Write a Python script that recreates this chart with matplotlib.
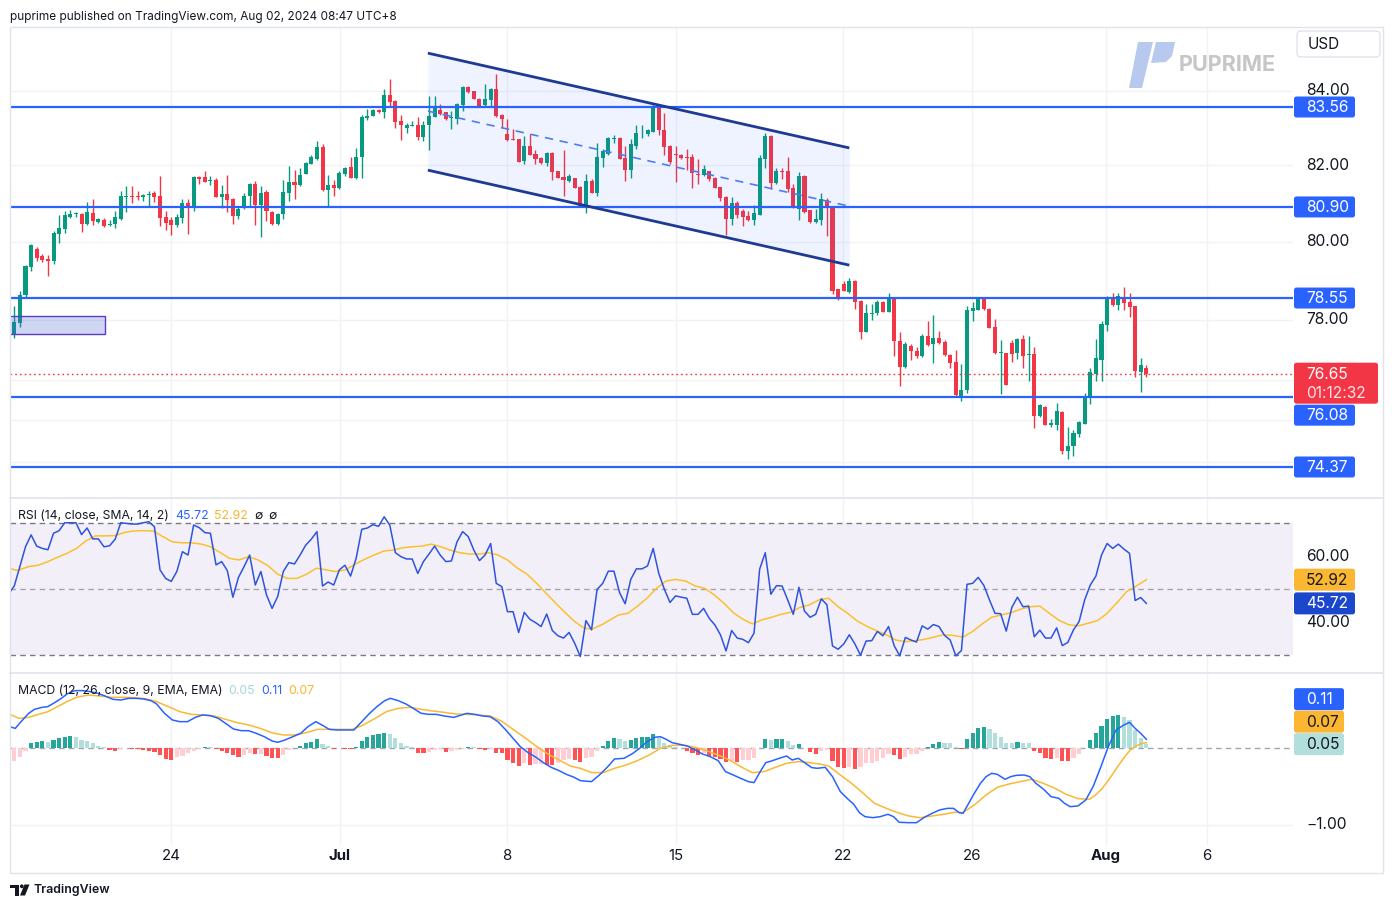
import numpy as np
import matplotlib
matplotlib.use("Agg")
import matplotlib.pyplot as plt
from matplotlib.patches import Rectangle, FancyBboxPatch, Polygon, Circle
from matplotlib.ticker import NullLocator, NullFormatter

plt.rcParams['font.family'] = ['Inter', 'DejaVu Sans']

# ---------------- data (4h candles, index 0 = first visible bar) ----------------
opens = [77.87,77.64,77.92,78.63,79.34,79.81,79.63,79.55,79.50,80.20,
 80.33,80.64,80.72,80.72,80.46,80.74,80.51,80.56,80.43,80.46,
 80.59,81.16,81.19,81.19,81.16,81.21,81.27,81.19,80.64,80.56,
 80.43,80.61,81.00,80.92,81.69,81.69,81.58,81.61,81.16,81.24,
 81.11,80.66,80.87,81.19,81.50,80.95,81.29,80.77,80.46,80.72,
 81.27,81.56,81.48,81.77,82.03,82.17,82.49,81.35,81.48,81.40,
 81.77,81.95,81.66,82.22,83.26,83.32,83.48,83.42,83.88,83.72,
 83.18,83.00,83.05,83.08,82.75,83.08,83.29,83.48,83.42,83.26,
 83.24,83.61,84.10,83.99,83.78,83.61,83.75,84.05,83.34,82.83,
 82.70,82.70,82.11,82.51,82.30,82.19,82.06,82.33,81.85,81.69,
 81.58,81.66,81.42,80.92,81.58,81.27,82.19,82.30,82.70,82.73,
 82.19,81.87,82.51,82.85,82.83,82.89,83.53,82.94,82.51,82.30,
 82.27,82.22,82.22,81.77,81.74,81.85,81.66,81.42,81.16,80.59,
 81.00,80.79,80.66,80.56,80.69,82.17,82.78,81.53,81.85,81.85,
 81.40,80.85,81.71,80.82,80.51,80.56,81.08,80.92,78.78,78.91,
 78.70,78.98,78.47,77.69,78.15,78.17,78.45,78.20,78.53,77.46,
 76.81,77.34,77.21,77.09,77.59,77.39,77.54,77.44,77.11,76.94,
 76.07,76.25,78.22,78.25,78.53,78.27,77.82,77.16,77.16,77.41,
 77.16,77.51,77.11,77.14,75.61,75.83,75.39,75.39,75.70,74.75,
 74.87,75.17,75.41,76.05,76.64,76.99,77.87,78.53,78.37,78.58,
 78.45,78.35,76.69,76.79]
highs = [77.90,78.35,78.73,79.39,79.94,79.86,79.68,79.65,80.27,80.69,
 80.79,80.82,80.77,80.74,81.03,81.11,80.61,80.61,80.56,80.79,
 81.32,81.45,81.45,81.32,81.24,81.32,81.32,81.71,80.79,80.64,
 80.72,81.11,81.11,81.71,81.71,81.85,81.71,81.66,81.48,81.74,
 81.13,80.90,81.27,81.53,81.58,81.45,81.35,80.79,80.74,81.61,
 81.98,81.87,81.93,82.09,82.27,82.65,82.57,81.74,81.61,81.85,
 81.95,82.22,82.46,83.34,83.50,83.50,83.50,84.05,84.32,83.75,
 83.34,83.13,83.18,83.29,83.18,83.86,83.86,83.64,83.43,83.45,
 83.67,84.13,84.13,84.00,83.80,84.18,84.07,84.46,83.36,83.24,
 82.97,82.71,82.78,82.83,82.41,82.21,82.35,82.35,81.86,82.41,
 81.77,81.67,81.45,81.77,81.63,82.59,82.43,82.75,82.81,82.74,
 82.51,82.70,83.08,83.08,82.97,83.64,83.61,83.40,82.53,82.51,
 82.30,82.43,82.30,82.17,82.01,81.86,81.69,81.43,81.19,81.16,
 81.05,80.85,80.79,80.95,82.27,82.86,82.81,81.93,81.93,82.22,
 81.50,81.82,81.74,80.83,80.85,81.27,81.13,80.93,78.79,78.98,
 79.06,79.01,78.50,78.40,78.40,78.50,78.47,78.68,78.54,77.69,
 77.44,77.39,77.31,77.64,77.97,78.12,77.72,77.49,77.14,77.24,
 76.89,78.35,78.45,78.55,78.55,78.30,78.02,77.49,77.17,77.49,
 77.54,77.61,77.59,77.31,75.90,75.85,75.53,75.93,75.73,75.34,
 75.26,75.48,76.17,76.79,77.51,77.97,78.60,78.68,78.68,78.83,
 78.68,78.36,77.04,76.86]
lows = [77.58,77.54,77.82,78.55,79.24,79.50,79.47,79.11,79.42,79.96,
 80.22,80.62,80.64,80.25,80.43,80.43,80.49,80.38,80.40,80.35,
 80.57,80.77,81.00,81.08,81.05,80.90,81.03,80.40,80.30,80.17,
 80.38,80.48,80.20,80.79,81.50,81.55,81.48,81.15,80.87,80.77,
 80.46,80.59,80.85,80.92,80.43,80.12,80.53,80.43,80.43,80.59,
 81.05,81.11,81.45,81.76,82.02,82.14,81.33,80.92,81.19,81.37,
 81.71,81.65,81.63,81.66,83.21,83.31,83.40,83.26,83.56,82.99,
 82.67,82.86,83.04,82.67,82.64,82.41,83.28,83.34,83.21,82.97,
 83.10,83.45,83.95,83.77,83.56,83.56,83.56,83.29,82.99,82.65,
 82.66,82.08,82.03,82.26,82.03,82.04,81.98,81.61,81.65,81.19,
 81.56,81.39,80.91,80.74,81.26,81.19,81.95,82.27,82.59,82.16,
 81.58,81.66,82.43,82.73,82.78,82.88,82.81,82.27,82.03,81.56,
 82.17,81.87,81.40,81.50,81.71,81.58,81.39,81.05,80.17,80.43,
 80.61,80.40,80.53,80.43,80.68,81.93,81.37,81.50,81.64,81.29,
 80.87,80.56,80.74,80.48,80.48,80.43,80.14,78.65,78.50,78.72,
 78.69,78.27,77.51,77.68,77.99,78.12,78.19,78.19,77.09,76.34,
 76.80,76.99,77.04,77.06,77.34,76.91,77.40,77.10,76.79,76.07,
 75.97,76.17,77.97,78.24,78.24,77.78,77.15,76.15,76.36,76.94,
 77.01,76.79,76.47,75.31,75.58,75.38,75.34,75.26,74.68,74.56,
 74.63,75.09,75.40,75.90,76.47,76.47,77.71,78.35,78.25,78.25,
 78.07,76.57,76.20,76.57]
closes = [77.61,77.94,78.63,79.37,79.91,79.57,79.52,79.50,80.22,80.35,
 80.69,80.72,80.74,80.46,80.77,80.53,80.59,80.40,80.46,80.64,
 81.19,81.19,81.16,81.16,81.21,81.24,81.16,80.61,80.48,80.43,
 80.64,81.00,80.92,81.69,81.63,81.56,81.61,81.16,81.24,81.08,
 80.66,80.85,81.19,81.50,80.95,81.27,80.79,80.46,80.72,81.29,
 81.56,81.48,81.74,82.06,82.22,82.49,81.35,81.48,81.40,81.79,
 81.93,81.66,82.22,83.29,83.32,83.48,83.42,83.88,83.70,83.16,
 83.08,83.07,83.08,82.75,83.08,83.32,83.56,83.37,83.24,83.29,
 83.64,84.10,83.96,83.78,83.59,83.78,84.05,83.32,83.24,82.67,
 82.67,82.09,82.51,82.27,82.17,82.06,82.33,81.82,81.66,81.61,
 81.71,81.40,80.92,81.58,81.27,82.22,82.38,82.73,82.73,82.17,
 81.87,82.57,82.86,82.87,82.94,83.53,82.94,82.49,82.09,82.27,
 82.19,82.19,81.79,81.74,81.90,81.64,81.40,81.13,80.59,81.00,
 80.69,80.64,80.56,80.74,82.19,82.78,81.53,81.85,81.82,81.37,
 80.90,81.71,80.77,80.51,80.59,81.11,80.87,78.73,78.55,78.73,
 78.98,78.45,77.69,78.17,78.17,78.45,78.20,78.53,77.46,76.81,
 77.39,77.21,77.09,77.59,77.36,77.54,77.41,77.11,76.91,76.12,
 76.25,78.25,78.30,78.53,78.27,77.79,77.16,77.19,76.37,77.14,
 77.51,77.09,77.14,75.61,75.88,75.39,75.43,75.73,74.75,74.87,
 75.19,75.46,76.07,76.69,77.04,77.89,78.53,78.37,78.60,78.42,
 78.32,76.72,76.86,76.65]

rsi = [48.6,51.0,56.9,62.9,66.5,63.1,62.4,62.0,67.0,67.8,
 70.2,70.2,70.2,66.6,68.6,65.3,65.3,62.9,63.2,65.2,
 70.2,70.0,69.8,69.8,70.2,70.5,69.0,55.9,53.3,52.4,
 55.4,61.4,60.4,69.5,68.7,67.2,67.0,57.4,58.4,55.7,
 47.6,53.6,56.9,60.4,51.3,55.4,48.3,44.2,47.8,55.4,
 58.1,57.7,60.4,63.4,65.2,67.5,51.0,52.2,51.3,55.9,
 57.3,54.0,59.4,68.2,68.6,69.6,69.1,72.0,69.5,61.1,
 59.9,59.2,59.2,54.8,58.4,60.7,63.1,60.4,58.4,58.6,
 64.4,67.5,66.0,61.9,58.7,60.4,63.9,51.8,50.8,43.2,
 43.2,36.9,43.0,40.9,39.9,38.7,42.5,37.5,35.9,35.2,
 36.9,33.6,29.6,40.5,37.7,50.0,51.8,55.5,55.5,49.0,
 45.6,53.0,56.2,56.2,57.1,62.4,54.8,50.0,46.0,48.0,
 47.6,47.3,42.4,42.4,44.2,41.2,39.2,36.2,31.3,37.5,
 35.2,34.8,33.8,36.7,56.1,61.1,48.5,51.1,51.0,46.8,
 42.4,50.6,43.4,41.5,42.4,47.1,45.3,32.8,31.8,33.4,
 36.2,33.4,30.0,34.3,34.4,37.2,35.9,38.7,32.9,29.8,
 35.4,34.6,34.0,38.9,37.9,39.3,38.7,36.0,34.6,29.8,
 31.4,51.5,51.8,53.6,51.2,46.8,42.7,42.6,37.3,44.5,
 47.6,44.7,44.9,35.6,37.6,35.2,35.2,38.3,32.9,33.9,
 37.7,40.2,46.8,51.3,54.0,60.4,63.9,62.4,63.7,62.2,
 60.9,46.6,47.5,45.72]

rsi_ma_x = [0,1.5,3.6,5.3,7,8.7,10.4,12.1,13.8,15.5,17.2,19,20.6,22.3,24,25.8,27.5,29.2,30.9,32.7,
 34.4,36,37.7,39.4,41.1,42.8,44.5,46.3,48,49.7,51.4,53.2,54.9,56.6,58.3,60.1,61.8,63.5,65.2,66.9,
 68.6,70.3,72,73.7,75.4,77.1,78.8,80.5,82.2,83.9,85.6,87.3,89,90.8,92.5,94.2,95.9,97.6,99.3,101,
 102.7,104.1,106,108.8,110.5,112.2,113.9,115.6,117.3,119,120.8,122.5,124.2,125.9,127.6,129.3,131,132.7,134.4,136.1,
 137.8,139.5,141.2,142.9,144.6,146.3,148,149.7,151.4,153.2,154.9,156.6,158.3,160,161.7,163.4,165.1,166.8,168.5,170.3,
 172,173.7,175.4,177.1,178.9,180.6,182.3,184,185.7,187.5,189.2,190.9,192.6,194.3,196,197.8,199.5,201.2,203]
rsi_ma_y = [56.4,55.7,56.9,57.3,58.4,59.7,60.9,62.4,64.7,66.2,66.2,66.3,67.2,67.7,67.8,67.7,66.0,64.4,64.1,64.1,
 63.7,62.9,61.2,59.4,58.9,59.9,58.9,57.1,54.6,53.3,53.3,54.6,56.4,55.9,55.4,55.9,57.6,59.1,60.4,61.6,
 61.9,62.6,62.9,63.1,63.7,62.9,61.9,61.1,60.7,60.7,61.1,60.4,58.9,56.4,54.6,51.8,48.8,45.8,42.9,40.2,
 38.2,37.9,39.4,42.2,42.7,44.9,47.3,50.3,52.5,53.0,52.5,51.0,50.3,48.3,45.8,42.9,40.9,39.5,40.7,41.5,
 42.4,43.0,44.5,45.3,46.8,47.3,44.7,42.7,40.4,38.7,37.4,36.2,34.6,34.1,34.4,34.8,35.5,36.2,36.0,35.5,
 37.2,39.5,41.5,42.2,42.9,44.0,44.7,44.9,42.7,40.5,39.2,38.9,39.7,40.5,42.7,46.0,49.3,51.0,52.92]

hist = [-0.17,-0.164,-0.113,-0.039,0.069,0.082,0.091,0.078,0.104,0.126,
 0.147,0.156,0.139,0.104,0.091,0.061,0.026,0.009,-0.026,-0.043,
 -0.013,-0.004,-0.013,-0.017,-0.026,-0.035,-0.056,-0.095,-0.147,-0.156,
 -0.121,-0.104,-0.069,-0.035,-0.009,0.013,0.009,-0.017,-0.035,-0.069,
 -0.095,-0.113,-0.091,-0.07,-0.08,-0.075,-0.104,-0.126,-0.13,-0.087,
 -0.026,-0.005,0.026,0.061,0.082,0.117,0.052,0.026,-0.017,-0.004,
 -0.009,-0.017,0.017,0.095,0.143,0.165,0.177,0.19,0.182,0.126,
 0.069,0.026,0.009,-0.061,-0.062,-0.048,-0.026,-0.017,-0.048,-0.045,
 -0.026,-0.009,0.013,0.009,-0.017,-0.026,-0.017,-0.061,-0.069,-0.156,
 -0.199,-0.229,-0.199,-0.221,-0.21,-0.205,-0.215,-0.22,-0.19,-0.156,
 -0.147,-0.16,-0.177,-0.134,-0.121,-0.043,0.026,0.091,0.126,0.113,
 0.091,0.104,0.126,0.139,0.147,0.182,0.126,0.069,0.039,0.017,
 -0.004,-0.039,-0.069,-0.091,-0.061,-0.104,-0.113,-0.147,-0.177,-0.169,
 -0.18,-0.156,-0.155,-0.126,-0.005,0.113,0.104,0.117,0.118,0.091,
 0.039,0.052,0.004,-0.048,-0.074,-0.043,-0.030,-0.169,-0.251,-0.264,
 -0.251,-0.277,-0.25,-0.199,-0.19,-0.164,-0.126,-0.078,-0.091,-0.143,
 -0.113,-0.078,-0.075,-0.035,0.017,0.048,0.078,0.065,0.063,0.017,
 -0.009,0.117,0.195,0.264,0.273,0.247,0.19,0.143,0.069,0.068,
 0.078,0.069,0.068,-0.035,-0.069,-0.126,-0.139,-0.126,-0.169,-0.17,
 -0.126,-0.082,0.004,0.104,0.19,0.286,0.377,0.416,0.433,0.407,
 0.364,0.234,0.134,0.056]

macd_x = [0.15,1.18,2.2,3.57,4.6,5.96,6.98,8.0,9.4,10.4,11.8,13.2,14.5,15.9,17.2,18.6,20,21.4,22.7,24.1,
 25.4,26.4,27.8,29.2,30.5,31.9,33.3,34.6,36,37.4,38.7,40.1,41.5,42.8,44.2,45.6,47,48,49.3,50.7,
 52.1,53.4,54.8,56.2,57.2,58.6,59.9,61.6,63,64.4,65.7,67.1,68.1,69.5,70.9,72.2,73.6,75,76.3,77.7,
 79.4,80.8,81.8,83.2,84.5,85.9,87.3,88.6,90,91.3,92.7,94.1,95.4,96.8,98.2,99.5,100.9,102,104,105.4,
 106.8,108.1,109.8,111.2,112.6,113.9,115.3,116.3,117.3,118.4,119.7,121.1,122.5,123.8,125.2,126.6,127.9,129.3,130.6,132,
 133,134.1,135.1,136.1,137.5,138.8,139.8,140.9,142.2,143.3,144.3,145.7,147,148.4,149.8,150.8,151.8,152.8,154.2,155.5,
 156.9,157.9,158.9,160.6,162,163.4,164.8,166.1,167.5,168.6,169.6,170.3,171.3,172.3,173.4,174.4,175.4,176.4,177.8,178.8,
 179.8,181.2,182.2,183.3,184.6,186,187.4,188.4,189.4,190.8,192.2,193.5,194.9,196.2,197.6,199,200,201,202,203]
macd_y = [0.277,0.255,0.342,0.450,0.502,0.528,0.537,0.580,0.645,0.701,0.745,0.745,0.732,0.710,0.675,0.632,0.623,0.645,0.645,0.636,
 0.615,0.571,0.450,0.364,0.342,0.342,0.398,0.429,0.420,0.385,0.320,0.247,0.225,0.225,0.190,0.147,0.091,0.074,0.104,0.147,
 0.190,0.277,0.342,0.286,0.242,0.234,0.234,0.234,0.342,0.450,0.537,0.615,0.645,0.615,0.571,0.515,0.450,0.437,0.437,0.416,
 0.398,0.429,0.450,0.437,0.416,0.407,0.342,0.242,0.126,0.017,-0.061,-0.121,-0.190,-0.251,-0.294,-0.342,-0.381,-0.424,-0.437,-0.351,
 -0.251,-0.143,-0.134,-0.078,-0.004,0.082,0.139,0.147,0.113,0.069,0.048,0.026,-0.026,-0.078,-0.113,-0.164,-0.307,-0.351,-0.394,-0.437,
 -0.450,-0.307,-0.190,-0.169,-0.134,-0.104,-0.156,-0.134,-0.199,-0.255,-0.264,-0.251,-0.372,-0.567,-0.667,-0.732,-0.840,-0.892,-0.905,-0.892,
 -0.861,-0.892,-0.965,-0.970,-0.970,-0.900,-0.848,-0.805,-0.784,-0.784,-0.840,-0.848,-0.719,-0.589,-0.459,-0.372,-0.329,-0.342,-0.407,-0.372,
 -0.355,-0.351,-0.372,-0.459,-0.532,-0.632,-0.654,-0.719,-0.762,-0.753,-0.675,-0.502,-0.242,0.017,0.234,0.299,0.333,0.255,0.190,0.113]

signal_x = [0.15,1.9,3.6,5.3,7,8.7,10.4,12.1,14.2,16.2,18.3,20.3,22.4,24.4,26.4,28.5,30.5,32.6,34.6,36.7,
 38.7,40.8,42.8,44.9,46.9,49,51,53.1,55.1,57.2,59.2,61.3,63.3,65.4,67.4,69.5,71.5,73.6,75.6,77.7,
 79.7,81.8,83.8,85.9,87.9,90,92,94.1,96.2,98.2,100.2,102,104,106.1,108.1,110.2,112.2,114.3,116.3,118.4,
 120.4,122.5,124.5,126.6,128.6,130.6,132.7,134.8,136.8,138.8,140.9,142.9,145,146.3,148.4,150.4,152.5,154.5,156.6,158.6,
 160.6,162.6,164.8,166.8,168.8,170.2,172.3,174.4,176.4,178.5,180.5,182.6,184.6,186.7,188.7,190.8,192.8,194,195,196,
 197,198,199,200,201,202,203]
signal_y = [0.437,0.385,0.398,0.437,0.472,0.537,0.602,0.658,0.688,0.675,0.658,0.658,0.654,0.641,0.602,0.537,0.472,0.437,0.429,0.416,
 0.372,0.329,0.299,0.255,0.199,0.169,0.169,0.199,0.242,0.242,0.242,0.242,0.299,0.385,0.472,0.515,0.528,0.502,0.481,0.463,
 0.442,0.437,0.429,0.416,0.351,0.242,0.139,0.026,-0.078,-0.156,-0.234,-0.264,-0.320,-0.320,-0.264,-0.221,-0.164,-0.091,-0.004,0.035,
 0.035,0.009,-0.035,-0.091,-0.156,-0.242,-0.320,-0.307,-0.251,-0.199,-0.177,-0.190,-0.212,-0.234,-0.351,-0.459,-0.589,-0.719,-0.784,-0.840,
 -0.883,-0.905,-0.883,-0.861,-0.835,-0.840,-0.740,-0.610,-0.511,-0.468,-0.437,-0.407,-0.459,-0.524,-0.602,-0.658,-0.667,-0.608,-0.536,-0.442,
 -0.338,-0.230,-0.128,-0.037,0.02,0.055,0.069]

date_labels = ['24', 'Jul', '8', '15', '22', '26', 'Aug', '6']
date_pos = [28.96, 59.1, 88.9, 119.1, 148.9, 171.9, 195.8, 213.8]
month_labels = ['Jul', 'Aug']

levels = [83.56, 80.90, 78.55, 76.08, 74.37]
last_price = 76.65
countdown = '01:12:32'
channel_x = [74.8, 150.0]
channel_upper = [85.03, 82.46]
channel_mid = [83.45, 80.92]
channel_lower = [81.87, 79.39]
zone_x = [-2.0, 17.13]
zone_price = [77.63, 78.09]
price_ticks = [84.0, 82.0, 80.0, 78.0, 76.5, 75.5, 74.5]
rsi_ticks = [60.0, 40.0]
macd_ticks = [-1.0]
rsi_last, rsi_ma_last = 45.72, 52.92
macd_last, signal_last, hist_last = 0.11, 0.07, 0.05

header = 'puprime published on TradingView.com, Aug 02, 2024 08:47 UTC+8'

# ---------------- layout ----------------
W, H = 1394, 908
fig = plt.figure(figsize=(W / 100, H / 100), dpi=100)
fig.patch.set_facecolor('white')

def frac(x0, y0, x1, y1):
    return [x0 / W, 1 - y1 / H, (x1 - x0) / W, (y1 - y0) / H]

ax_p = fig.add_axes(frac(10, 27, 1293, 497))
ax_r = fig.add_axes(frac(10, 499, 1293, 672))
ax_m = fig.add_axes(frac(10, 674, 1293, 845))

GRID = '#f0f2f6'
TXT = '#131722'
BLUE = '#2962ff'
UP, DN = '#089981', '#f23645'
x_lo, x_hi = 0.233, 229.17

for ax in (ax_p, ax_r, ax_m):
    for s in ax.spines.values():
        s.set_visible(False)
    ax.set_facecolor('none')

idx = np.arange(len(opens))
o = np.array(opens); hi = np.array(highs); lo = np.array(lows); c = np.array(closes)
up = c >= o
ccol = np.where(up, UP, DN)

# price panel
ax_p.vlines(idx, lo, hi, colors=ccol, lw=1.0, zorder=3)
ax_p.bar(idx, np.maximum(np.abs(c - o), 0.018), bottom=np.minimum(o, c), width=0.72,
         color=ccol, lw=0, zorder=3)
for lv in levels:
    ax_p.axhline(lv, color=BLUE, lw=1.6, zorder=4)
ax_p.axhline(last_price, color=DN, lw=1.0, ls=(0, (1.2, 2.2)), zorder=4)
ax_p.fill_between(channel_x, channel_lower, channel_upper, color=BLUE, alpha=0.07, lw=0, zorder=5)
ax_p.plot(channel_x, channel_upper, color='#1f3a93', lw=2.0, zorder=6, solid_capstyle='butt')
ax_p.plot(channel_x, channel_lower, color='#1f3a93', lw=2.0, zorder=6, solid_capstyle='butt')
ax_p.plot(channel_x, channel_mid, color='#4f7cf0', lw=1.2, ls=(0, (5, 4)), zorder=6)
ax_p.add_patch(Rectangle((zone_x[0], zone_price[0]), zone_x[1] - zone_x[0],
                         zone_price[1] - zone_price[0], fc=(0.25, 0.37, 0.84, 0.25),
                         ec='#5b3cc4', lw=1.0, zorder=5))
ax_p.set_yscale('log')
ax_p.set_ylim(73.651, 85.752)
ax_p.set_yticks(price_ticks)
ax_p.yaxis.set_minor_locator(NullLocator())
ax_p.yaxis.set_major_formatter(NullFormatter())
ax_p.yaxis.set_minor_formatter(NullFormatter())

# RSI panel
ax_r.axhspan(30, 70, color='#7e57c2', alpha=0.09, lw=0, zorder=0)
ax_r.axhline(70, color='#787b86', lw=1.0, ls=(0, (4, 3)), zorder=2)
ax_r.axhline(30, color='#787b86', lw=1.0, ls=(0, (4, 3)), zorder=2)
ax_r.axhline(50, color='#a3a6af', lw=1.0, ls=(0, (4, 3)), zorder=2)
ax_r.plot(rsi_ma_x, rsi_ma_y, color='#fbc02d', lw=1.1, zorder=3)
ax_r.plot(idx, rsi, color='#2f54dc', lw=1.1, zorder=4)
ax_r.set_ylim(24.9, 77.4)
ax_r.set_yticks(rsi_ticks)

# MACD panel
hcol = []
for i, v in enumerate(hist):
    prev = hist[i - 1] if i > 0 else v
    if v >= 0:
        hcol.append('#26a69a' if v >= prev else '#b2dfdb')
    else:
        hcol.append('#ff5252' if v <= prev else '#ffcdd2')
ax_m.bar(idx, hist, width=0.75, color=hcol, lw=0, zorder=2)
ax_m.axhline(0, color='#a3a6af', lw=1.0, ls=(0, (4, 3)), zorder=1)
ax_m.plot(signal_x, signal_y, color='#f9b933', lw=1.1, zorder=3)
ax_m.plot(macd_x, macd_y, color=BLUE, lw=1.1, zorder=4)
ax_m.set_ylim(-1.26, 0.961)
ax_m.set_yticks(macd_ticks)

for ax in (ax_p, ax_r, ax_m):
    ax.set_xlim(x_lo, x_hi)
    ax.set_xticks(date_pos)
    ax.tick_params(which='both', length=0, labelleft=False, labelbottom=False,
                   labelright=False, labeltop=False)
    ax.grid(True, which='major', color=GRID, lw=1.0)
    ax.set_axisbelow(True)

# ---------------- overlay in figure pixels ----------------
ov = fig.add_axes([0, 0, 1, 1])
ov.set_xlim(0, W); ov.set_ylim(H, 0); ov.axis('off')
ov.set_zorder(10)

def ypix(ax, v):
    return H - ax.transData.transform((1.0, v))[1]

def xpix(ax, v):
    return ax.transData.transform((v, 0.5))[0]

FS = 11.2
LX = 1306

# frame & separators
ov.add_patch(Rectangle((10, 27), 1373, 846, fill=False, ec='#e0e3eb', lw=1.0, zorder=1))
ov.plot([10, 1383], [498, 498], color='#e0e3eb', lw=1.2, zorder=1)
ov.plot([10, 1383], [673, 673], color='#e0e3eb', lw=1.2, zorder=1)

# ---- tags (price scale labels that sit on the axis) ----
tag_boxes = []

def tag(yc, text, fc, tc, w=61, h=21):
    ov.add_patch(FancyBboxPatch((1294, yc - h / 2), w, h,
                                boxstyle='round,pad=0,rounding_size=2.5', fc=fc, ec='none',
                                zorder=5))
    ov.text(LX, yc + 0.5, text, fontsize=FS, color=tc, va='center', ha='left', zorder=6)
    tag_boxes.append((yc - h / 2, yc + h / 2))

# last price tag
y_last = ypix(ax_p, last_price)
red_top, red_bot = y_last - 11, y_last + 30
ov.add_patch(FancyBboxPatch((1294, red_top), 84, red_bot - red_top,
                            boxstyle='round,pad=0,rounding_size=2.5', fc=DN, ec='none', zorder=5))
ov.text(LX, y_last + 0.5, f'{last_price:.2f}', fontsize=FS, color='white', va='center',
        ha='left', zorder=6)
ov.text(LX, y_last + 19.5, countdown, fontsize=FS, color='#ffe3e6', va='center', ha='left',
        zorder=6)
tag_boxes.append((red_top, red_bot))

for lv in levels:
    yc = ypix(ax_p, lv)
    if red_top - 10.5 < yc < red_bot + 10.5:
        yc = red_bot + 1 + 10.5 if yc > y_last else red_top - 1 - 10.5
    tag(yc, f'{lv:.2f}', BLUE, 'white')

tag(ypix(ax_r, rsi_ma_last), f'{rsi_ma_last:.2f}', '#fbb731', TXT, h=22)
tag(ypix(ax_r, rsi_last), f'{rsi_last:.2f}', '#1a47cc', 'white', h=22)

# MACD tags stacked upward
mt = sorted([(ypix(ax_m, hist_last), f'{hist_last:.2f}', '#b2dfdb', TXT),
             (ypix(ax_m, signal_last), f'{signal_last:.2f}', '#fbb731', TXT),
             (ypix(ax_m, macd_last), f'{macd_last:.2f}', BLUE, 'white')],
            key=lambda t: -t[0])
limit = None
for yc, txt, fc, tc in mt:
    if limit is not None and yc > limit:
        yc = limit
    tag(yc, txt, fc, tc, w=50, h=22)
    limit = yc - 22.5

# ---- plain axis labels: drawn unless a tag fully covers them ----
def covered(y):
    return any(top <= y - 4 and y + 4 <= bot for top, bot in tag_boxes)

def axis_label(y, text, partial_ok=True):
    if covered(y):
        return
    ov.text(LX, y, text, fontsize=FS, color=TXT, va='center', ha='left', zorder=2)

for t in price_ticks:
    axis_label(ypix(ax_p, t), f'{t:.2f}')
for t in rsi_ticks:
    axis_label(ypix(ax_r, t), f'{t:.2f}')
for t in macd_ticks:
    axis_label(ypix(ax_m, t), f'{t:.2f}'.replace('-', '\u2212'))

# x labels
for lab, pos in zip(date_labels, date_pos):
    ov.text(xpix(ax_m, pos), 856, lab, fontsize=10.8, color=TXT, ha='center', va='center',
            fontweight='bold' if lab in month_labels else 'normal')

# legends
renderer = fig.canvas.get_renderer()
def seq(x, y, parts, fs=8.8):
    for txt, col in parts:
        t = ov.text(x, y, txt, fontsize=fs, color=col, va='center', ha='left')
        bb = t.get_window_extent(renderer)
        x = bb.x1 + 6

seq(18, 516, [('RSI (14, close, SMA, 14, 2)', TXT), (f'{rsi_last:.2f}', BLUE),
              (f'{rsi_ma_last:.2f}', '#f7b52c'), ('\u2205', TXT), ('\u2205', TXT)])
seq(18, 691, [('MACD (12, 26, close, 9, EMA, EMA)', TXT), (f'{hist_last:.2f}', '#a5d8d2'),
              (f'{macd_last:.2f}', BLUE), (f'{signal_last:.2f}', '#f7b52c')])

# header
ov.text(10, 17, header, fontsize=8.5, color=TXT, va='center', ha='left')

# USD box
ov.add_patch(FancyBboxPatch((1297, 31), 83, 26, boxstyle='round,pad=0,rounding_size=4',
                            fc='white', ec='#e0e3eb', lw=1.0))
ov.text(1308, 44.5, 'USD', fontsize=11, color=TXT, va='center', ha='left')

# watermark
ov.add_patch(Polygon([(1138, 42), (1153, 42), (1142, 88), (1129, 88)], closed=True,
                     fc='#b7c9ee', ec='none'))
ov.add_patch(Polygon([(1156, 42), (1175, 42), (1172, 56), (1166, 62), (1151, 63)], closed=True,
                     fc='#b7c9ee', ec='none'))
ov.text(1179, 65, 'PUPRIME', fontsize=15.6, fontweight='bold', color='#c6c6c6',
        va='center', ha='left')

# footer logo
ov.add_patch(Rectangle((10, 884.5), 8.5, 3.5, fc=TXT, ec='none'))
ov.add_patch(Rectangle((14.5, 884.5), 4, 11, fc=TXT, ec='none'))
ov.add_patch(Circle((21.8, 886.3), 1.9, fc=TXT, ec='none'))
ov.add_patch(Polygon([(24.5, 884.5), (29.5, 884.5), (25, 895.5), (20, 895.5)], closed=True,
                     fc=TXT, ec='none'))
ov.text(33, 890, 'TradingView', fontsize=8.9, color=TXT, va='center', ha='left',
        fontweight='semibold')

fig.savefig('out.png', dpi=100, facecolor='white')
